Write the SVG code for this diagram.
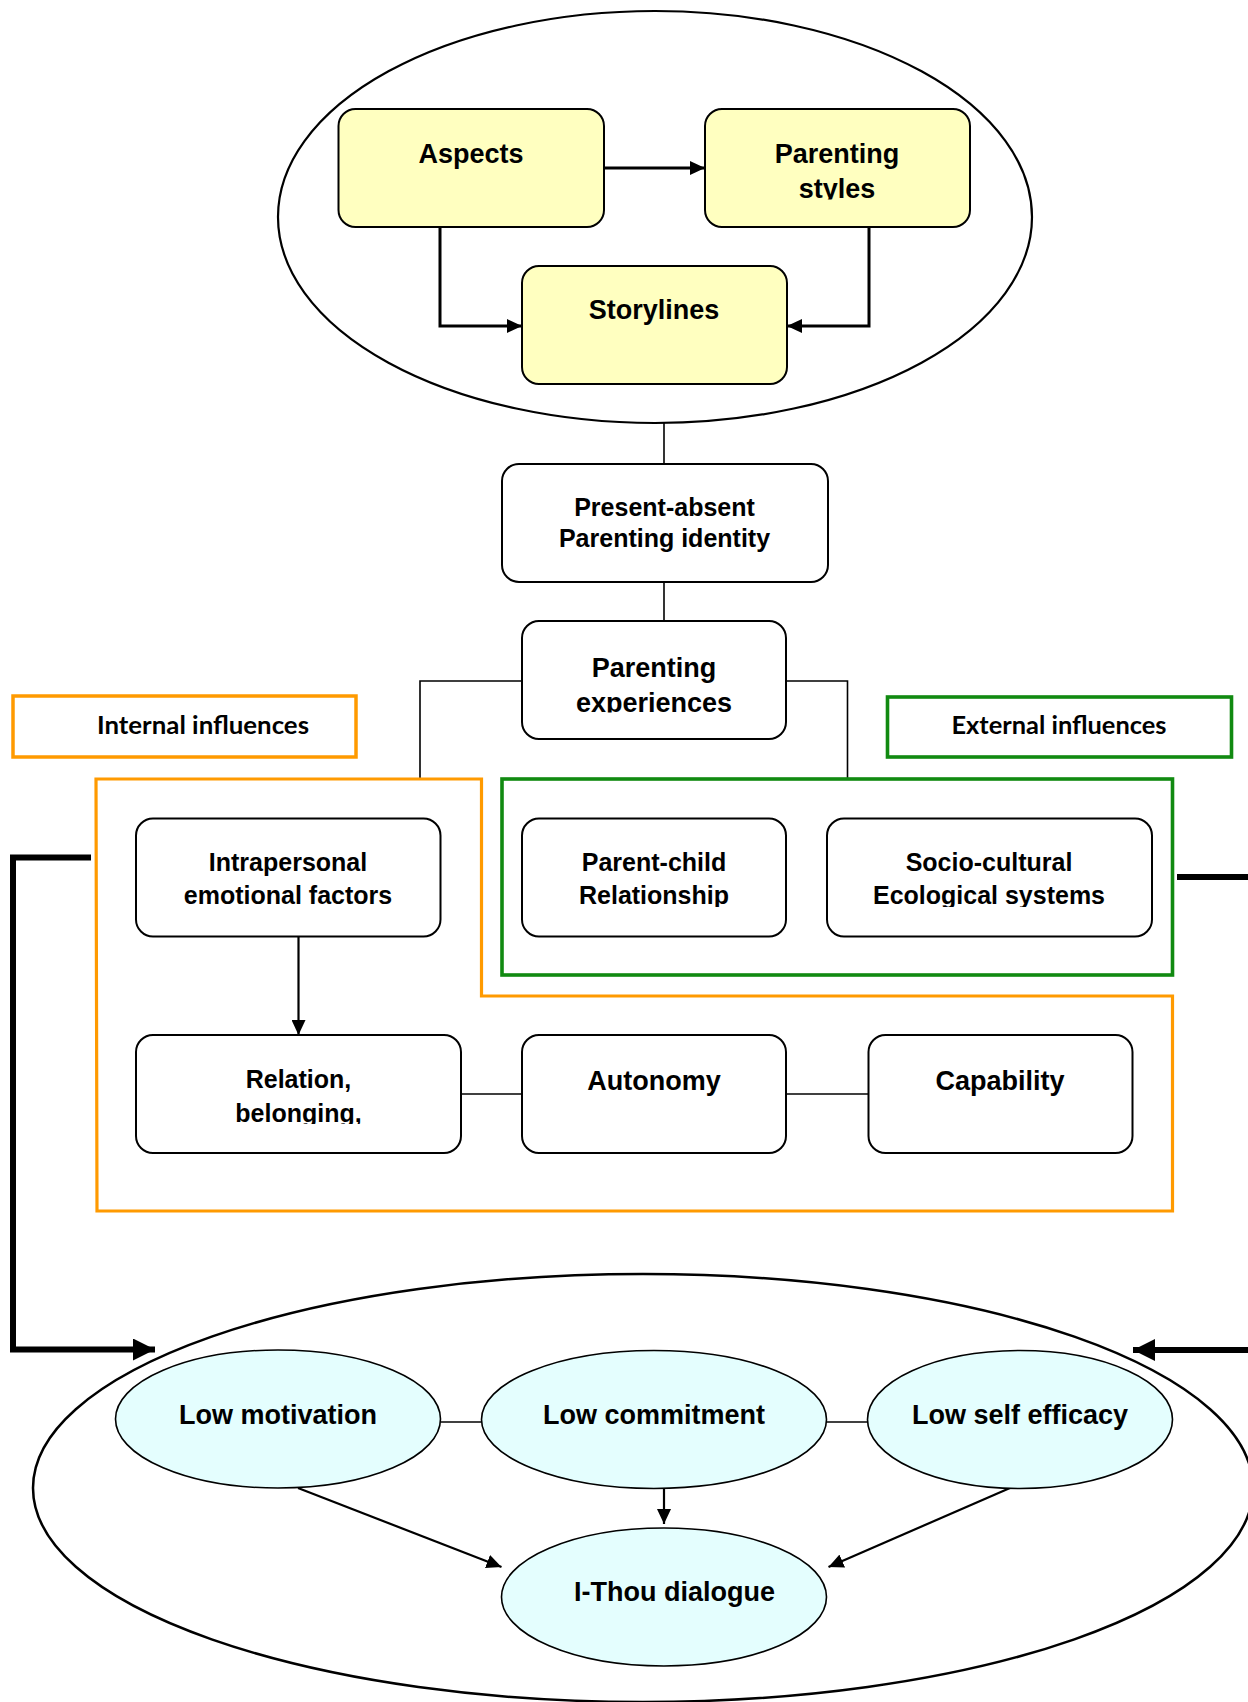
<svg xmlns="http://www.w3.org/2000/svg" width="1248" height="1702" viewBox="0 0 1248 1702">
<style>
  .box { fill: #ffffff; stroke: #000; stroke-width: 2; }
  .ybox { fill: #ffffc0; stroke: #000; stroke-width: 2; }
  .cyan { fill: #e4fefe; stroke: #000; stroke-width: 1.6; }
  .big { fill: none; stroke: #000; stroke-width: 2.2; }
  .t27 { font-family: "Liberation Sans", Arial, sans-serif; font-weight: bold; font-size: 27px; fill: #000; text-anchor: middle; }
  .t25 { font-family: "Liberation Sans", Arial, sans-serif; font-weight: bold; font-size: 25px; fill: #000; text-anchor: middle; }
  .lab { font-family: Lato, "Open Sans", sans-serif; font-weight: bold; font-size: 25px; fill: #000; text-anchor: middle; }
  .thin { fill: none; stroke: #000; stroke-width: 1.6; }
  .med { fill: none; stroke: #000; stroke-width: 2.2; }
  .bold3 { fill: none; stroke: #000; stroke-width: 3; }
  .thick { fill: none; stroke: #000; stroke-width: 6; stroke-linejoin: miter; }
  .orange { fill: none; stroke: #ff9a00; stroke-width: 3.2; }
  .green { fill: none; stroke: #118a11; stroke-width: 3.6; }
</style>
<defs>
  <marker id="arr" viewBox="0 0 15 14" refX="15" refY="7" markerWidth="15" markerHeight="14" markerUnits="userSpaceOnUse" orient="auto">
    <path d="M0,0 L15,7 L0,14 z" fill="#000"/>
  </marker>
  <marker id="arrBig" viewBox="0 0 22 22" refX="22" refY="11" markerWidth="22" markerHeight="22" markerUnits="userSpaceOnUse" orient="auto">
    <path d="M0,0 L22,11 L0,22 z" fill="#000"/>
  </marker>
  <clipPath id="clipStyles"><rect x="700" y="100" width="280" height="99.5"/></clipPath>
  <clipPath id="clipExp"><rect x="520" y="620" width="270" height="92.5"/></clipPath>
  <clipPath id="clipRow2"><rect x="500" y="810" width="680" height="97"/></clipPath>
  <clipPath id="clipBel"><rect x="130" y="1030" width="340" height="94"/></clipPath>
</defs>

<!-- frames -->
<ellipse id="top-ellipse" class="big" cx="655" cy="217" rx="377" ry="206"/>
<ellipse id="bottom-ellipse" class="big" cx="643" cy="1488" rx="610" ry="214" style="stroke-width:2.5"/>

<g id="connectors">
  <path class="bold3" d="M604,168 H705" marker-end="url(#arr)"/>
  <path class="bold3" d="M440,227 V326 H522" marker-end="url(#arr)"/>
  <path class="bold3" d="M869,227 V326 H787" marker-end="url(#arr)"/>
  <path class="thin" d="M664,423 V464"/>
  <path class="thin" d="M664,582 V621"/>
  <path class="thin" d="M522,681 H420 V779"/>
  <path class="thin" d="M786,681 H847.5 V779"/>
  <path class="med" d="M298.5,937 V1035" marker-end="url(#arr)"/>
  <path class="thin" d="M461,1094 H522"/>
  <path class="thin" d="M786,1094 H868.5"/>
  <path class="thick" d="M91,857.5 H13 V1349.5 H155" marker-end="url(#arrBig)"/>
  <path class="thick" d="M1177,877 H1248"/>
  <path class="thick" d="M1248,1350 H1133" marker-end="url(#arrBig)"/>
  <path class="thin" d="M440.5,1422 H481.5"/>
  <path class="thin" d="M826.5,1422 H867.5"/>
  <path class="med" d="M664,1488 V1524" marker-end="url(#arr)"/>
  <path class="med" d="M298,1488 L501.5,1567" marker-end="url(#arr)"/>
  <path class="med" d="M1010,1488 L828.5,1567" marker-end="url(#arr)"/>
</g>

<g id="aspects">
  <rect class="ybox" x="338.5" y="109" width="265.5" height="118" rx="17"/>
  <text class="t27" x="471" y="162.7">Aspects</text>
</g>
<g id="parenting-styles">
  <rect class="ybox" x="705" y="109" width="265" height="118" rx="17"/>
  <text class="t27" x="837" y="162.7">Parenting</text>
  <text class="t27" x="837" y="198" clip-path="url(#clipStyles)">styles</text>
</g>
<g id="storylines">
  <rect class="ybox" x="522" y="266" width="265" height="118" rx="17"/>
  <text class="t27" x="654" y="319.3">Storylines</text>
</g>

<g id="present-absent">
  <rect class="box" x="502" y="464" width="326" height="118" rx="17"/>
  <text class="t25" x="664.5" y="515.5">Present-absent</text>
  <text class="t25" x="664.5" y="546.5">Parenting identity</text>
</g>
<g id="parenting-experiences">
  <rect class="box" x="522" y="621" width="264" height="118" rx="17"/>
  <text class="t27" x="654" y="676.5">Parenting</text>
  <text class="t27" x="654" y="711.5" clip-path="url(#clipExp)">experiences</text>
</g>

<g id="internal-influences">
  <rect class="orange" x="13" y="696" width="343" height="61" style="stroke-width:3.5"/>
  <text class="lab" x="203" y="734" textLength="212" lengthAdjust="spacingAndGlyphs">Internal influences</text>
</g>
<g id="external-influences">
  <rect class="green" x="887.5" y="697" width="344" height="60"/>
  <text class="lab" x="1059" y="734" textLength="215" lengthAdjust="spacingAndGlyphs">External influences</text>
</g>

<g id="internal-group">
  <path class="orange" d="M96,779 H481.5 V996 H1172.5 V1211 H97 Z"/>
</g>
<g id="external-group">
  <rect class="green" x="502" y="779" width="670.5" height="196"/>
</g>

<g id="intrapersonal">
  <rect class="box" x="136" y="818.5" width="304.5" height="118" rx="17"/>
  <text class="t25" x="288" y="871">Intrapersonal</text>
  <text class="t25" x="288" y="904">emotional factors</text>
</g>
<g id="parent-child">
  <rect class="box" x="522" y="818.5" width="264" height="118" rx="17"/>
  <text class="t25" x="654" y="871">Parent-child</text>
  <text class="t25" x="654" y="904" clip-path="url(#clipRow2)">Relationship</text>
</g>
<g id="socio-cultural">
  <rect class="box" x="827" y="818.5" width="325" height="118" rx="17"/>
  <text class="t25" x="989" y="871">Socio-cultural</text>
  <text class="t25" x="989" y="904" clip-path="url(#clipRow2)">Ecological systems</text>
</g>

<g id="relation">
  <rect class="box" x="136" y="1035" width="325" height="118" rx="17"/>
  <text class="t25" x="298.5" y="1088">Relation,</text>
  <text class="t25" x="298.5" y="1122" clip-path="url(#clipBel)">belonging,</text>
</g>
<g id="autonomy">
  <rect class="box" x="522" y="1035" width="264" height="118" rx="17"/>
  <text class="t27" x="654" y="1090">Autonomy</text>
</g>
<g id="capability">
  <rect class="box" x="868.5" y="1035" width="264" height="118" rx="17"/>
  <text class="t27" x="1000" y="1090">Capability</text>
</g>

<g id="low-motivation">
  <ellipse class="cyan" cx="278" cy="1419" rx="162.5" ry="69"/>
  <text class="t27" x="278" y="1424">Low motivation</text>
</g>
<g id="low-commitment">
  <ellipse class="cyan" cx="654" cy="1419.5" rx="172.5" ry="69"/>
  <text class="t27" x="654" y="1424">Low commitment</text>
</g>
<g id="low-self-efficacy">
  <ellipse class="cyan" cx="1020" cy="1419.5" rx="152.5" ry="69"/>
  <text class="t27" x="1020" y="1424">Low self efficacy</text>
</g>
<g id="i-thou">
  <ellipse class="cyan" cx="664" cy="1597" rx="162.5" ry="69"/>
  <text class="t27" x="674.5" y="1601">I-Thou dialogue</text>
</g>
</svg>
